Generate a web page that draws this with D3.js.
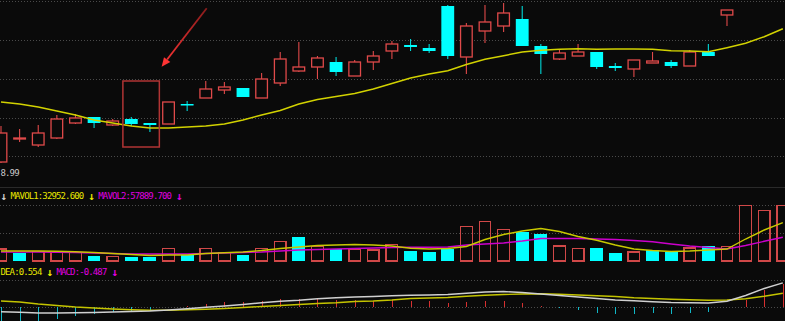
<!DOCTYPE html>
<html><head><meta charset="utf-8">
<script src="https://cdn.jsdelivr.net/npm/d3@7"></script>
<style>html,body{margin:0;padding:0;background:#0a0a0a;overflow:hidden}</style>
</head><body><svg id="c" width="785" height="321"></svg>
<script>
// ---------- data ----------
const days = d3.range(43).map(i => "D" + (i + 1));
const open  = [9.00,9.23,9.17,9.24,9.39,9.45,9.37,9.43,9.39,9.38,9.58,9.64,9.72,9.74,9.64,9.79,9.91,9.95,10.00,9.86,10.00,10.11,10.17,10.14,10.56,10.05,10.31,10.36,10.43,10.16,10.03,10.06,10.10,9.96,9.93,9.99,10.00,9.96,10.10,10.47,10.70,10.95,11.20];
const high  = [9.36,9.33,9.37,9.47,9.48,9.45,9.43,9.45,9.39,9.60,9.61,9.81,9.80,9.74,9.89,10.10,10.20,10.06,10.05,10.02,10.11,10.21,10.23,10.18,10.57,10.39,10.57,10.59,10.56,10.18,10.12,10.18,10.10,9.99,10.02,10.10,10.02,10.12,10.18,10.52,10.95,11.20,11.45];
const low   = [8.99,9.20,9.15,9.23,9.38,9.34,9.36,9.36,9.30,9.38,9.51,9.64,9.68,9.65,9.64,9.76,9.90,9.83,9.86,9.86,9.92,10.03,10.11,10.09,10.03,9.88,10.19,10.30,10.16,9.88,10.02,10.06,9.93,9.91,9.85,9.99,9.94,9.96,10.06,10.36,10.66,10.90,11.10];
const close = [9.29,9.24,9.29,9.43,9.44,9.39,9.41,9.38,9.37,9.60,9.57,9.73,9.75,9.65,9.83,10.03,9.95,10.04,9.90,10.00,10.06,10.18,10.15,10.11,10.06,10.36,10.40,10.49,10.16,10.08,10.09,10.10,9.95,9.94,10.02,10.01,9.96,10.10,10.06,10.52,10.90,11.15,11.40];
const prevClose = 9.20;
const ma    = [9.60,9.58,9.55,9.51,9.47,9.42,9.39,9.36,9.34,9.34,9.35,9.36,9.38,9.42,9.47,9.515,9.58,9.625,9.655,9.685,9.73,9.785,9.84,9.88,9.913,9.975,10.027,10.063,10.10,10.117,10.127,10.133,10.127,10.13,10.13,10.127,10.113,10.11,10.103,10.143,10.187,10.253,10.333];
const lowLabel = "8.99";

const volume = [12000,8300,9300,8700,8300,5000,4700,4300,3700,12700,6000,12700,8300,6000,12700,19700,24000,14300,12300,12000,11000,16300,10000,9000,11700,34700,39700,31700,29000,27000,15000,12700,13000,7700,9000,10700,8700,13000,14700,14700,55300,50700,55300];
const mavol1 = [10000,10000,10000,9700,9300,8500,7500,6500,5500,6000,6000,7500,8300,9000,10500,12500,14000,15500,16000,16500,16000,15000,12700,12000,12500,14500,21500,26500,30000,32500,29500,24500,20700,16000,12000,10500,9500,10000,11000,12000,22000,31000,38300];
const mavol2 = [9000,9000,9000,8700,8500,8000,7500,7000,7000,7000,7000,7500,8000,8500,9000,10000,11000,11500,12000,12500,13000,13500,13700,13700,14000,16000,17000,18000,20000,22500,22500,22500,22000,21500,20500,19300,17000,15000,13500,12000,15500,19700,23700];

const dif  = [-0.24,-0.26,-0.30,-0.30,-0.29,-0.275,-0.25,-0.225,-0.20,-0.15,-0.09,-0.015,0.05,0.125,0.215,0.285,0.335,0.41,0.46,0.50,0.525,0.56,0.59,0.60,0.625,0.685,0.75,0.775,0.725,0.65,0.575,0.50,0.425,0.35,0.31,0.265,0.225,0.21,0.20,0.29,0.575,0.925,1.21];
const dea  = [0.30,0.25,0.15,0.075,0.0,-0.05,-0.10,-0.14,-0.165,-0.165,-0.14,-0.115,-0.075,-0.025,0.025,0.075,0.125,0.175,0.21,0.275,0.30,0.35,0.425,0.45,0.475,0.54,0.59,0.625,0.65,0.665,0.635,0.60,0.565,0.525,0.46,0.425,0.385,0.36,0.34,0.35,0.41,0.535,0.69];
const macd = [-0.90,-0.85,-0.80,-0.60,-0.45,-0.36,-0.25,-0.19,-0.135,-0.015,0.04,0.175,0.26,0.25,0.325,0.425,0.425,0.46,0.375,0.375,0.325,0.35,0.325,0.30,0.185,0.25,0.30,0.325,0.185,0.035,-0.065,-0.14,-0.285,-0.365,-0.35,-0.315,-0.365,-0.285,-0.25,-0.01,0.365,0.865,1.135];

const volLabels  = [{t:"\u2193", c:"#d0d0d0"}, {t:"MAVOL1:32952.600", c:"#e8e800"}, {t:"\u2193", c:"#e8e800"}, {t:"MAVOL2:57889.700", c:"#e000e0"}, {t:"\u2193", c:"#e000e0"}];
const macdLabels = [{t:"DEA:0.554", c:"#e8e800"}, {t:"\u2193", c:"#e8e800"}, {t:"MACD:-0.487", c:"#e000e0"}, {t:"\u2193", c:"#e000e0"}];

const highlight = {from:"D8", to:"D9", top:9.81, bottom:9.15};
const arrow = {fromIdx:11.05, fromPrice:10.537, toIdx:8.63, toPrice:9.953};

// ---------- layout ----------
const W = 785, H = 321;
const RED = "#e04a4a", CYAN = "#00ffff";
const step = 18.615;
const svg = d3.select("#c");
svg.append("rect").attr("width", W).attr("height", H).attr("fill", "#0a0a0a");

const x = d3.scaleBand().domain(days)
  .range([1 - step / 2, 1 - step / 2 + days.length * step])
  .paddingInner(0.31).paddingOuter(0.155);
const bw = x.bandwidth();
const xc = d => x(d) + bw / 2;
const xi = d3.scaleLinear().domain([0, days.length - 1]).range([xc(days[0]), xc(days[days.length - 1])]);

const y = d3.scaleLinear().domain([8.99, 10.62]).range([163, 0]);
const vy = d3.scaleLinear().domain([0, 56000]).range([261, 205]);
const my = d3.scaleLinear().domain([-1, 1]).range([327, 287]);

// grid lines
const grid = svg.append("g").attr("stroke", "#4a4a4a").attr("stroke-dasharray", "1,2").attr("shape-rendering", "crispEdges");
[1.5, 40.3, 79.2, 118, 156.8, 205.7, 233.4, 280.7, 307].forEach(gy =>
  grid.append("line").attr("x1", 0).attr("x2", W).attr("y1", gy).attr("y2", gy));
svg.append("line").attr("x1", 0).attr("x2", W).attr("y1", 187.5).attr("y2", 187.5).attr("stroke", "#2a2a2a").attr("stroke-width", 1.2);

// ---------- main panel ----------
const main = svg.append("g");
const candles = days.map((d, i) => ({d, o: open[i], h: high[i], l: low[i], c: close[i], up: close[i] >= open[i]}));

candles.forEach(k => {
  const col = k.up ? RED : "#00d8d8";
  if (k.up) {
    main.append("line").attr("x1", xc(k.d)).attr("x2", xc(k.d)).attr("y1", y(k.h)).attr("y2", y(k.c)).attr("stroke", col).attr("stroke-width", 1.1);
    main.append("line").attr("x1", xc(k.d)).attr("x2", xc(k.d)).attr("y1", y(k.o)).attr("y2", y(k.l)).attr("stroke", col).attr("stroke-width", 1.1);
  } else {
    main.append("line").attr("x1", xc(k.d)).attr("x2", xc(k.d)).attr("y1", y(k.h)).attr("y2", y(k.l)).attr("stroke", col).attr("stroke-width", 1.1);
  }
});
main.selectAll("rect.up").data(candles.filter(k => k.up)).join("rect")
  .attr("x", k => x(k.d) + 0.6).attr("width", bw - 1.2)
  .attr("y", k => y(k.c)).attr("height", k => Math.max(0.5, y(k.o) - y(k.c)))
  .attr("fill", "#0a0a0a").attr("stroke", RED).attr("stroke-width", 1.3);
main.selectAll("rect.dn").data(candles.filter(k => !k.up)).join("rect")
  .attr("x", k => x(k.d)).attr("width", bw)
  .attr("y", k => y(k.o)).attr("height", k => Math.max(1.5, y(k.c) - y(k.o)))
  .attr("fill", CYAN);

main.append("path").datum(ma)
  .attr("d", d3.line().x((v, i) => xc(days[i])).y(v => y(v)))
  .attr("fill", "none").attr("stroke", "#d2d200").attr("stroke-width", 1.5);

main.append("rect")
  .attr("x", x(highlight.from) - 2).attr("y", y(highlight.top))
  .attr("width", x(highlight.to) + bw + 3 - (x(highlight.from) - 2))
  .attr("height", y(highlight.bottom) - y(highlight.top))
  .attr("fill", "none").attr("stroke", "#b03434").attr("stroke-width", 1.5);

const defs = svg.append("defs");
const ax1 = xi(arrow.fromIdx), ay1 = y(arrow.fromPrice), ax2 = xi(arrow.toIdx), ay2 = y(arrow.toPrice);
const grad = defs.append("linearGradient").attr("id", "ag").attr("gradientUnits", "userSpaceOnUse")
  .attr("x1", ax1).attr("y1", ay1).attr("x2", ax2).attr("y2", ay2);
grad.append("stop").attr("offset", "0").attr("stop-color", "#8a1c1c");
grad.append("stop").attr("offset", "1").attr("stop-color", "#ff3434");
const ang = Math.atan2(ay2 - ay1, ax2 - ax1);
const hl = 9, hw = 4;
const bx = ax2 - hl * Math.cos(ang), by = ay2 - hl * Math.sin(ang);
main.append("line").attr("x1", ax1).attr("y1", ay1).attr("x2", bx).attr("y2", by)
  .attr("stroke", "url(#ag)").attr("stroke-width", 1.8);
main.append("path")
  .attr("d", `M${ax2},${ay2} L${bx + hw * Math.sin(ang)},${by - hw * Math.cos(ang)} L${bx - hw * Math.sin(ang)},${by + hw * Math.cos(ang)} Z`)
  .attr("fill", "#ff3434");

const FONT = "DejaVu Sans Mono", FS = 9, LS = -0.87;
svg.append("text").attr("x", 0.5).attr("y", y(8.99) + 12.5)
  .attr("font-family", FONT).attr("font-size", FS).attr("letter-spacing", LS).attr("fill", "#c8c8c8")
  .text(lowLabel);

// ---------- volume panel ----------
const vol = svg.append("g").attr("shape-rendering", "crispEdges");
const vbars = days.map((d, i) => ({d, v: volume[i], up: close[i] > (i ? close[i - 1] : prevClose)}));
vol.selectAll("rect.vu").data(vbars.filter(b => b.up)).join("rect")
  .attr("x", b => x(b.d) + 0.6).attr("width", bw - 1.2)
  .attr("y", b => vy(b.v)).attr("height", b => vy(0) - vy(b.v))
  .attr("fill", "none").attr("stroke", "#d04848").attr("stroke-width", 1.3);
vol.selectAll("rect.vd").data(vbars.filter(b => !b.up)).join("rect")
  .attr("x", b => x(b.d)).attr("width", bw)
  .attr("y", b => vy(b.v)).attr("height", b => vy(0) - vy(b.v))
  .attr("fill", CYAN);
svg.append("path").datum(mavol2)
  .attr("d", d3.line().x((v, i) => xc(days[i])).y(v => vy(v)))
  .attr("fill", "none").attr("stroke", "#cc00cc").attr("stroke-width", 1.4);
svg.append("path").datum(mavol1)
  .attr("d", d3.line().x((v, i) => xc(days[i])).y(v => vy(v)))
  .attr("fill", "none").attr("stroke", "#c8c800").attr("stroke-width", 1.4);

// ---------- MACD panel ----------
const mg = svg.append("g").attr("shape-rendering", "crispEdges");
macd.forEach((v, i) => {
  mg.append("line").attr("x1", Math.round(xc(days[i])) + 0.5).attr("x2", Math.round(xc(days[i])) + 0.5)
    .attr("y1", my(0)).attr("y2", my(v))
    .attr("stroke", v >= 0 ? "#d83030" : "#10b8c8").attr("stroke-width", 1.2);
});
svg.append("path").datum(dea)
  .attr("d", d3.line().x((v, i) => xc(days[i])).y(v => my(v)))
  .attr("fill", "none").attr("stroke", "#c4c400").attr("stroke-width", 1.4);
svg.append("path").datum(dif)
  .attr("d", d3.line().x((v, i) => xc(days[i])).y(v => my(v)))
  .attr("fill", "none").attr("stroke", "#d0d0d0").attr("stroke-width", 1.4);

// ---------- labels ----------
const CH = 4.55;
function labelRow(items, x0, baseY) {
  let cx = x0;
  items.forEach(it => {
    const single = it.t.length === 1;
    const w = single ? 5 : it.t.length * CH;
    svg.append("text").attr("x", cx).attr("y", baseY + (single ? 1 : 0))
      .attr("font-family", FONT).attr("font-size", single ? 11 : FS)
      .attr("font-weight", single ? "bold" : "normal")
      .attr("letter-spacing", single ? 0 : LS)
      .attr("fill", it.c).text(it.t);
    cx += w + 5;
  });
}
labelRow(volLabels, 0.5, 198.5);
labelRow(macdLabels, 0.5, 274.5);
</script></body></html>
